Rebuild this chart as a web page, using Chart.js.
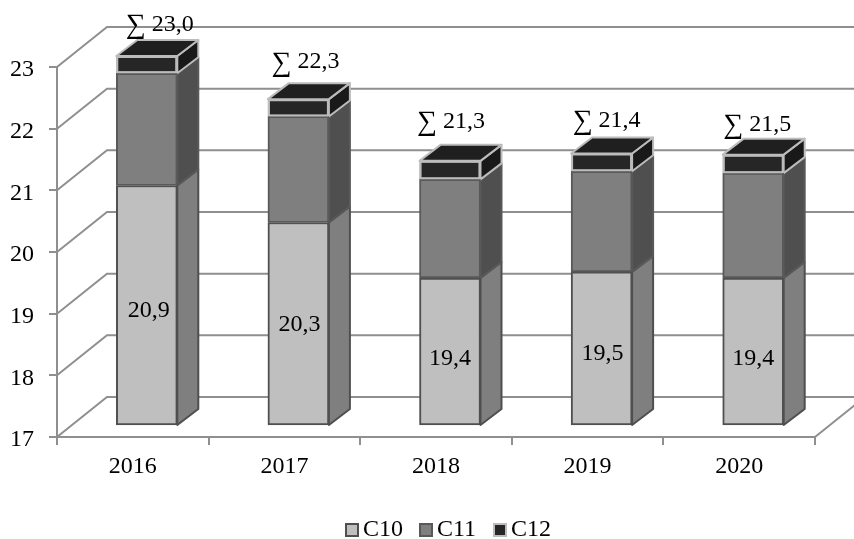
<!DOCTYPE html>
<html>
<head>
<meta charset="utf-8">
<style>
    html, body { margin: 0; padding: 0; background: #fff; }
    canvas { display: block; }
</style>
<script src="https://cdn.jsdelivr.net/npm/chart.js@4"></script>
</head>
<body>
<canvas id="panel-chart" width="854" height="539"></canvas>
<script>
const years = ['2016', '2017', '2018', '2019', '2020'];
const c10Values = [20.9, 20.3, 19.4, 19.5, 19.4];
const c11Values = [1.82, 1.72, 1.6, 1.63, 1.7];
const c12Values = [0.28, 0.28, 0.3, 0.29, 0.3];
const sumLabels = ['23,0', '22,3', '21,3', '21,4', '21,5'];
const yMin = 17;
const yMax = 23;

// label nudges, the source picture places these by hand
const sumNudgeX = [3, -3, -9, -5, -6];
const sumNudgeY = [5, -1, -3, 3, 6];
const c10NudgeX = [2, 1, 0, 1, 0];
const c10NudgeY = [5, 1, 7, 5, 7];

const font = 'Liberation Serif';
const gridColor = '#8f8f8f';

const wallX = 50;
const wallY = -40;
const barShiftX = 14;
const barShiftY = -11;
const sideX = 21;
const sideY = -16;

const faces = [
    { side: '#7f7f7f', top: '#a0a0a0', edge: '#4f4f4f' },
    { side: '#4f4f4f', top: '#6a6a6a', edge: '#595959' },
    { side: '#191919', top: '#1f1f1f', edge: '#bcbcbc' }
];

const wallsPlugin = {
    id: 'walls',
    beforeDatasetsDraw(chart) {
        const ctx = chart.ctx;
        const area = chart.chartArea;
        const yScale = chart.scales.y;

        ctx.save();
        ctx.strokeStyle = gridColor;
        ctx.lineWidth = 2;

        yScale.ticks.forEach((tick, index) => {
            const y = yScale.getPixelForTick(index);
            ctx.beginPath();
            ctx.moveTo(area.left, y);
            ctx.lineTo(area.left + wallX, y + wallY);
            ctx.lineTo(chart.width, y + wallY);
            ctx.stroke();
        });

        // right end of the floor runs off the canvas
        ctx.beginPath();
        ctx.moveTo(area.right, area.bottom);
        ctx.lineTo(area.right + wallX, area.bottom + wallY);
        ctx.stroke();
        ctx.restore();

        ctx.save();
        ctx.translate(barShiftX, barShiftY);
        ctx.lineWidth = 2;
        ctx.lineJoin = 'round';

        chart.data.datasets.forEach((dataset, datasetIndex) => {
            const face = faces[datasetIndex];
            chart.getDatasetMeta(datasetIndex).data.forEach(bar => {
                const { x, y, base, width } = bar.getProps(['x', 'y', 'base', 'width']);
                const right = x + width / 2;
                const left = x - width / 2;

                ctx.strokeStyle = face.edge;

                ctx.fillStyle = face.side;
                ctx.beginPath();
                ctx.moveTo(right, y);
                ctx.lineTo(right + sideX, y + sideY);
                ctx.lineTo(right + sideX, base + sideY);
                ctx.lineTo(right, base);
                ctx.closePath();
                ctx.fill();
                ctx.stroke();

                if (datasetIndex === chart.data.datasets.length - 1) {
                    ctx.fillStyle = face.top;
                    ctx.beginPath();
                    ctx.moveTo(left, y);
                    ctx.lineTo(left + sideX, y + sideY);
                    ctx.lineTo(right + sideX, y + sideY);
                    ctx.lineTo(right, y);
                    ctx.closePath();
                    ctx.fill();
                    ctx.stroke();
                }
            });
        });
    },
    afterDatasetsDraw(chart) {
        const ctx = chart.ctx;
        const last = chart.data.datasets.length - 1;

        // library paints the lower series last, the light top box goes back over it
        ctx.strokeStyle = faces[last].edge;
        ctx.lineWidth = 2;
        chart.getDatasetMeta(last).data.forEach(bar => {
            const { x, y, base, width } = bar.getProps(['x', 'y', 'base', 'width']);
            ctx.strokeRect(x - width / 2 + 1, y + 1, width - 2, base - y - 2);
        });
        ctx.restore();
    }
};

const labelsPlugin = {
    id: 'labels',
    afterDraw(chart) {
        const ctx = chart.ctx;
        const datasets = chart.data.datasets;

        ctx.save();
        ctx.fillStyle = '#000';
        ctx.textAlign = 'center';
        ctx.textBaseline = 'middle';
        ctx.font = '24px "' + font + '"';

        chart.getDatasetMeta(0).data.forEach((bar, index) => {
            const { x, y, base } = bar.getProps(['x', 'y', 'base']);
            const text = c10Values[index].toFixed(1).replace('.', ',');
            ctx.fillText(text, x + barShiftX + c10NudgeX[index], (y + base) / 2 + barShiftY + c10NudgeY[index]);
        });

        chart.getDatasetMeta(datasets.length - 1).data.forEach((bar, index) => {
            const { x, y } = bar.getProps(['x', 'y']);
            const sumX = x + barShiftX + 23 + sumNudgeX[index];
            const sumY = y + barShiftY - 36 + sumNudgeY[index];
            ctx.fillText(sumLabels[index], sumX, sumY);
            // the sigma is a size up from the digits
            ctx.save();
            ctx.textAlign = 'right';
            ctx.font = '28px "' + font + '"';
            ctx.fillText('∑', sumX - 27, sumY + 1);
            ctx.restore();
        });

        // legend sits tighter than the built in one allows
        const legendY = 530;
        let legendX = 346;
        ctx.textAlign = 'left';
        datasets.forEach((dataset, index) => {
            ctx.fillStyle = dataset.backgroundColor;
            ctx.strokeStyle = dataset.borderColor;
            ctx.lineWidth = 2;
            ctx.fillRect(legendX, legendY - 6, 12, 12);
            ctx.strokeRect(legendX, legendY - 6, 12, 12);
            ctx.fillStyle = '#000';
            ctx.fillText(dataset.label, legendX + 17, legendY);
            legendX += 74;
        });
        ctx.restore();
    }
};

const sharedBar = {
    borderWidth: 2,
    borderSkipped: false,
    clip: false,
    barThickness: 61
};

new Chart(document.getElementById('panel-chart').getContext('2d'), {
    type: 'bar',
    data: {
        labels: years,
        datasets: [
            { label: 'C10', data: c10Values, base: yMin, backgroundColor: '#bfbfbf', borderColor: '#4f4f4f', ...sharedBar },
            { label: 'C11', data: c11Values, backgroundColor: '#7f7f7f', borderColor: '#595959', ...sharedBar },
            { label: 'C12', data: c12Values, backgroundColor: '#262626', borderColor: '#bcbcbc', ...sharedBar }
        ]
    },
    options: {
        responsive: false,
        animation: false,
        devicePixelRatio: 1,
        layout: { padding: { top: 67, right: 39, left: 0, bottom: 0 } },
        plugins: {
            legend: { display: false },
            tooltip: { enabled: false }
        },
        scales: {
            x: {
                stacked: true,
                afterFit: scale => { scale.height = 102; },
                grid: { drawOnChartArea: false, color: gridColor, lineWidth: 2, tickLength: 8 },
                border: { color: gridColor, width: 2 },
                ticks: { color: '#000', font: { family: font, size: 24 }, padding: 7, maxRotation: 0 }
            },
            y: {
                stacked: true,
                min: yMin,
                max: yMax,
                afterFit: scale => { scale.width = 57; },
                grid: { drawOnChartArea: false, color: gridColor, lineWidth: 2, tickLength: 8 },
                border: { color: gridColor, width: 2 },
                ticks: { color: '#000', font: { family: font, size: 24 }, padding: 15, stepSize: 1, labelOffset: 3 }
            }
        }
    },
    plugins: [wallsPlugin, labelsPlugin]
});
</script>
</body>
</html>
